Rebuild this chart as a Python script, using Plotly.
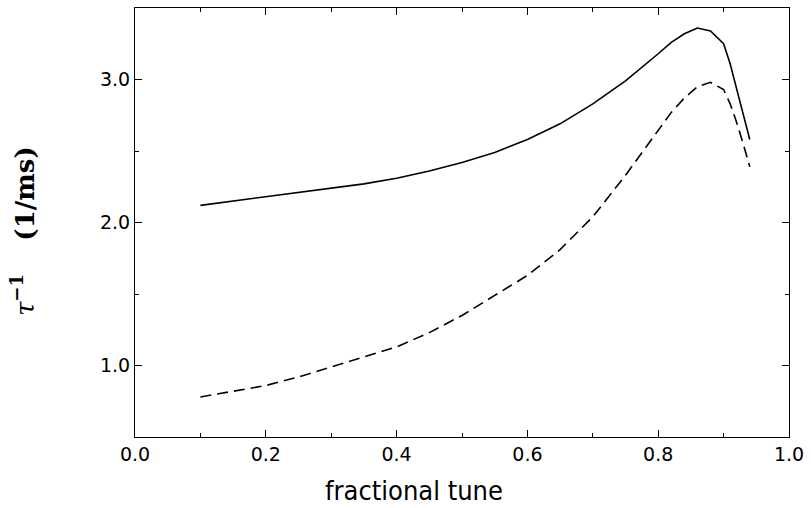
import plotly.graph_objects as go

tune = [0.1, 0.15, 0.2, 0.25, 0.3, 0.35, 0.4, 0.45, 0.5, 0.55, 0.6, 0.65, 0.7, 0.75,
        0.8, 0.82, 0.84, 0.86, 0.88, 0.9, 0.91, 0.92, 0.93, 0.94]
rate_solid = [2.12, 2.15, 2.18, 2.21, 2.24, 2.27, 2.31, 2.36, 2.42, 2.49, 2.58, 2.69, 2.83, 2.99,
              3.18, 3.26, 3.32, 3.36, 3.34, 3.25, 3.11, 2.94, 2.76, 2.58]
rate_dashed = [0.78, 0.82, 0.86, 0.92, 0.99, 1.06, 1.13, 1.23, 1.35, 1.49, 1.63, 1.81, 2.04, 2.33,
               2.65, 2.77, 2.87, 2.95, 2.98, 2.93, 2.83, 2.70, 2.55, 2.39]
x_ticks = [0.0, 0.2, 0.4, 0.6, 0.8, 1.0]
x_ticklabels = ["0.0", "0.2", "0.4", "0.6", "0.8", "1.0"]
y_ticks = [1.0, 2.0, 3.0]
y_ticklabels = ["1.0", "2.0", "3.0"]
x_title = "fractional tune"
y_title = "<i>τ</i><sup><b>−1</b></sup>\u00a0\u00a0\u00a0\u00a0<b>(1/ms)</b>"

fig = go.Figure()
fig.add_trace(go.Scatter(x=tune, y=rate_solid, mode="lines",
                         line=dict(color="black", width=1.6), showlegend=False))
fig.add_trace(go.Scatter(x=tune, y=rate_dashed, mode="lines",
                         line=dict(color="black", width=1.6, dash="11px,6px"), showlegend=False))

axis_common = dict(showgrid=False, zeroline=False, showline=True, linecolor="black", linewidth=1.2,
                   mirror="ticks", ticks="inside", ticklen=7, tickcolor="black", tickwidth=1)
tick_font = dict(family="DejaVu Sans, sans-serif", size=19, color="black")

fig.update_xaxes(range=[0, 1.0], tickvals=x_ticks, ticktext=x_ticklabels, tickfont=tick_font,
                 minor=dict(dtick=0.1, ticks="inside", ticklen=4, tickcolor="black"),
                 **axis_common)
fig.update_yaxes(range=[0.5, 3.5], tickvals=y_ticks, ticktext=y_ticklabels, tickfont=tick_font,
                 minor=dict(dtick=0.5, ticks="inside", ticklen=4, tickcolor="black"),
                 **axis_common)

fig.add_annotation(text=x_title, xref="paper", yref="paper", x=0.427, y=-0.125,
                   xanchor="center", yanchor="middle", showarrow=False,
                   font=dict(family="DejaVu Sans Condensed, DejaVu Sans, sans-serif", size=27, color="black"))
fig.add_annotation(text=y_title, xref="paper", yref="paper", x=-0.172, y=0.479,
                   xanchor="center", yanchor="middle", showarrow=False, textangle=-90,
                   font=dict(family="DejaVu Serif, serif", size=26, color="black"))

fig.update_layout(width=811, height=508, plot_bgcolor="white", paper_bgcolor="white",
                  margin=dict(l=135, r=19, t=7, b=71))

fig.write_html("out.html", config={"displayModeBar": False},
               post_script="document.body.style.margin='0px';")
